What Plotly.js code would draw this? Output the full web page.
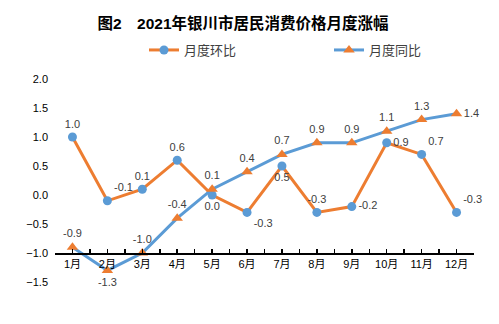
<!DOCTYPE html>
<html><head><meta charset="utf-8">
<script src="https://cdn.plot.ly/plotly-3.0.1.min.js"></script>
<style>html,body{margin:0;padding:0;background:#fff}#chart{width:499px;height:324px}</style>
</head><body><div id="chart"></div>
<script>
const months = ['1月','2月','3月','4月','5月','6月','7月','8月','9月','10月','11月','12月'];
const momName = '月度环比';
const yoyName = '月度同比';
const momValues = [1.0, -0.1, 0.1, 0.6, 0.0, -0.3, 0.5, -0.3, -0.2, 0.9, 0.7, -0.3];
const yoyValues = [-0.9, -1.3, -1.0, -0.4, 0.1, 0.4, 0.7, 0.9, 0.9, 1.1, 1.3, 1.4];
const momTextPos = ['top center','top right','top center','top center','bottom center','bottom right','bottom center','top center','middle right','middle right','top right','top right'];
const yoyTextPos = ['top center','bottom center','top center','top center','top center','top center','top center','top center','top center','top center','top center','middle right'];

const idx = months.map((m,i)=>i);
const FONT = 'Liberation Sans, Noto Sans CJK SC, sans-serif';
const ORANGE = '#ED7D31', BLUE = '#5B9BD5';

const traces = [
  {x: idx, y: momValues, name: momName, type:'scatter', mode:'lines+markers+text',
   line:{color:ORANGE, width:3}, marker:{color:BLUE, size:9, symbol:'circle'},
   text: momValues.map(v=>v.toFixed(1)), textposition: momTextPos,
   textfont:{family:FONT, size:11, color:'#404040'}, cliponaxis:false},
  {x: idx, y: yoyValues, name: yoyName, type:'scatter', mode:'lines+markers+text',
   line:{color:BLUE, width:3}, marker:{color:ORANGE, size:10, symbol:'triangle-up'},
   text: yoyValues.map(v=>v.toFixed(1)), textposition: yoyTextPos,
   textfont:{family:FONT, size:11, color:'#404040'}, cliponaxis:false}
];

const layout = {
  width:499, height:324,
  margin:{l:55, r:25, t:79, b:42},
  paper_bgcolor:'#fff', plot_bgcolor:'#fff',
  font:{family:FONT, size:11, color:'#000'},
  title:{text:'图2　2021年银川市居民消费价格月度涨幅', x:0.487, xanchor:'center', y:1-24/324, yref:'container', yanchor:'middle',
         font:{family:FONT, size:15.5, color:'#000', weight:'bold'}},
  showlegend:true,
  legend:{orientation:'h', x:144/499, xanchor:'left', xref:'container', y:1-50/324, yref:'container', yanchor:'middle',
          entrywidth:140, entrywidthmode:'pixels', font:{family:FONT, size:13, color:'#404040'}, traceorder:'normal'},
  xaxis:{range:[-0.5, 11.5], tickmode:'array', tickvals: idx, ticktext: months,
         anchor:'free', position: 0.5/3.5, showline:true, linecolor:'#000', linewidth:1.5,
         ticks:'inside', ticklen:4, tickcolor:'#000', tickwidth:1.5,
         minor:{tickmode:'linear', tick0:0.5, dtick:1, ticks:'inside', ticklen:4, tickcolor:'#000', tickwidth:1.5, showgrid:false},
         showgrid:false, zeroline:false, tickfont:{family:FONT, size:11, color:'#000'}, fixedrange:true},
  yaxis:{range:[-1.5, 2.0], dtick:0.5, tick0:0, tickformat:'.1f', showgrid:false, zeroline:false, showline:false,
         ticks:'', ticklabelstandoff:6, tickfont:{family:FONT, size:11, color:'#000'}, fixedrange:true}
};

Plotly.newPlot('chart', traces, layout, {displayModeBar:false, staticPlot:true});
</script></body></html>
